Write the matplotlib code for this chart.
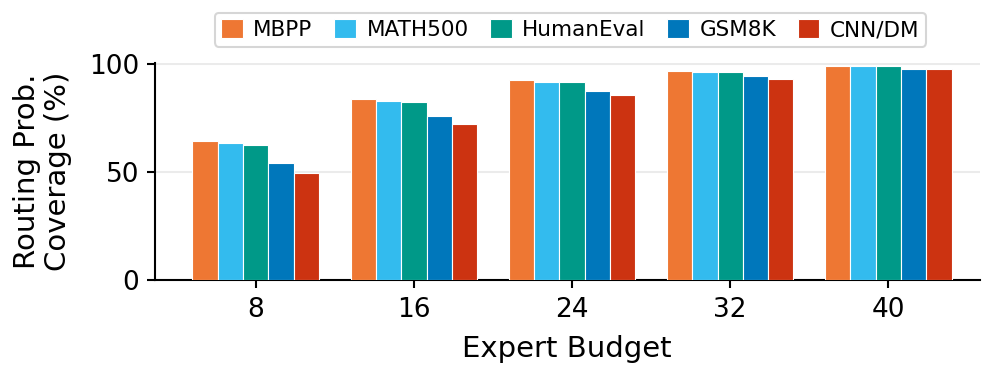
import matplotlib
matplotlib.use("Agg")
import matplotlib.pyplot as plt
import numpy as np

budgets = ["8", "16", "24", "32", "40"]
mbpp = [64.5, 83.6, 92.4, 96.8, 99.1]
math500 = [63.3, 82.7, 91.7, 96.4, 99.1]
humaneval = [62.6, 82.3, 91.5, 96.4, 98.9]
gsm8k = [54.0, 75.8, 87.6, 94.3, 97.8]
cnndm = [49.4, 72.2, 85.6, 93.2, 97.5]

names = ["MBPP", "MATH500", "HumanEval", "GSM8K", "CNN/DM"]
colors = ["#EE7733", "#33BBEE", "#009988", "#0077BB", "#CC3311"]
series = [mbpp, math500, humaneval, gsm8k, cnndm]

fig = plt.figure(figsize=(9.97, 3.76), dpi=100)
ax = fig.add_axes([0.155, 0.255, 0.828, 0.577])

x = np.arange(len(budgets))
w = 0.16
for i, (vals, name, c) in enumerate(zip(series, names, colors)):
    ax.bar(x + (i - 2) * w, vals, w, color=c, edgecolor="white", linewidth=0.8,
           label=name, zorder=3)

ax.set_xticks(x)
ax.set_xticklabels(budgets, fontsize=19)
ax.set_yticks([0, 50, 100])
ax.tick_params(axis="y", labelsize=19, pad=5)
ax.tick_params(axis="x", pad=6)
ax.tick_params(width=1.5, length=6)
ax.set_xlim(-0.64, 4.58)
ax.set_ylim(0, 100.4)
ax.yaxis.grid(True, color="#ebebeb", linewidth=1.5, zorder=0)
ax.set_axisbelow(True)
for s in ["top", "right"]:
    ax.spines[s].set_visible(False)
for s in ["left", "bottom"]:
    ax.spines[s].set_linewidth(1.5)

ax.set_xlabel("Expert Budget", fontsize=21, labelpad=9)
ax.set_ylabel("Routing Prob.\nCoverage (%)", fontsize=21, linespacing=1.15, labelpad=12)

leg = fig.legend(loc="upper center", bbox_to_anchor=(0.572, 0.995), ncol=5,
                 fontsize=15.5, frameon=True, handlelength=1.0, handleheight=1.0,
                 columnspacing=1.0, handletextpad=0.5, borderpad=0.3)
leg.get_frame().set_edgecolor("#cccccc")
leg.get_frame().set_linewidth(1.5)

fig.savefig("out.png", dpi=100)
